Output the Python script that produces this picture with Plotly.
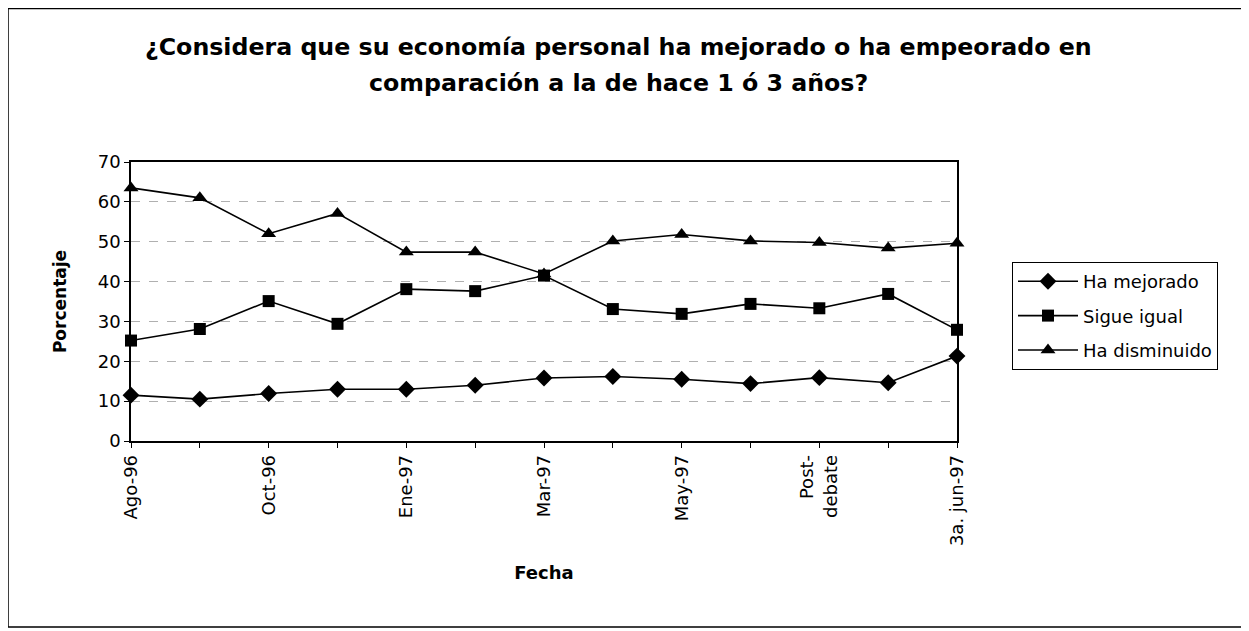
import plotly.graph_objects as go

categories = ["Ago-96", "", "Oct-96", "", "Ene-97", "", "Mar-97", "", "May-97", "", "Post-<br>debate", "", "3a. jun-97"]
ha_mejorado = [11.5, 10.5, 11.9, 13.0, 13.0, 14.0, 15.8, 16.2, 15.5, 14.4, 15.9, 14.6, 21.3]
sigue_igual = [25.2, 28.1, 35.1, 29.4, 38.1, 37.6, 41.5, 33.1, 31.9, 34.4, 33.3, 36.9, 27.9]
ha_disminuido = [63.5, 61.0, 52.0, 57.1, 47.4, 47.4, 41.9, 50.2, 51.8, 50.2, 49.8, 48.4, 49.6]
series_names = ["Ha mejorado", "Sigue igual", "Ha disminuido"]
symbols = ["diamond", "square", "triangle-up"]
y_ticks = [0, 10, 20, 30, 40, 50, 60, 70]
title_lines = ["¿Considera que su economía personal ha mejorado o ha empeorado en",
               "comparación a la de hace 1 ó 3 años?"]

FONT = "DejaVu Sans, Verdana, sans-serif"
idx = list(range(len(categories)))

fig = go.Figure()
for i, (name, vals, sym) in enumerate(zip(series_names, [ha_mejorado, sigue_igual, ha_disminuido], symbols)):
    fig.add_trace(go.Scatter(
        x=idx, y=vals, name=name, mode="lines+markers", legendgroup=f"g{i}",
        line=dict(color="black", width=1.6),
        marker=dict(symbol=sym, size=13 if sym != "square" else 12, color="black"),
        cliponaxis=False,
    ))

# page has an 8px body margin: figure coordinates = reference pixels - 8
OFF = 8
W, H = 1249 - OFF, 631 - OFF
L, R, T, B = 131 - OFF, 957 - OFF, 162 - OFF, 441 - OFF
pw, ph = R - L, B - T

def px(x):
    return (x - OFF - L) / pw

def py(y):
    return (B - (y - OFF)) / ph

fig.update_layout(
    width=W, height=H,
    margin=dict(l=L, r=W - R, t=T, b=H - B, autoexpand=False),
    paper_bgcolor="white", plot_bgcolor="white",
    font=dict(family=FONT, size=18, color="black"),
    xaxis=dict(
        range=[0, 12], tickmode="array", tickvals=idx, ticktext=categories,
        tickangle=-90, ticks="outside", ticklen=5, tickcolor="black",
        showline=True, linecolor="black", linewidth=1.5, mirror=True,
        showgrid=False, zeroline=False,
        tickfont=dict(family=FONT, size=18),
        title=dict(text="<b>Fecha</b>", font=dict(family=FONT, size=18), standoff=21),
    ),
    yaxis=dict(
        range=[0, 70], tickmode="array", tickvals=y_ticks,
        ticks="outside", ticklen=5, tickcolor="black",
        showline=True, linecolor="black", linewidth=1.5, mirror=True,
        showgrid=True, gridcolor="#b0b0b0", griddash="dash", gridwidth=1,
        zeroline=False,
        tickfont=dict(family=FONT, size=18),
        title=dict(text="<b>Porcentaje</b>", font=dict(family=FONT, size=17), standoff=27),
    ),
    legend=dict(
        x=px(1012), y=py(262), xanchor="left", yanchor="top",
        bordercolor="black", borderwidth=1, bgcolor="white",
        font=dict(family=FONT, size=18), tracegroupgap=8, itemwidth=60,
    ),
    showlegend=True,
)

for line, yc in zip(title_lines, [47, 83]):
    fig.add_annotation(text=f"<b>{line}</b>", xref="paper", yref="paper",
                       x=px(618), y=py(yc), xanchor="center", yanchor="middle",
                       showarrow=False, font=dict(family=FONT, size=23.7, color="black"))

fig.add_shape(type="rect", xref="paper", yref="paper",
              x0=px(8), x1=px(1243), y0=py(627), y1=py(8.5),
              line=dict(color="black", width=1.5), fillcolor="rgba(0,0,0,0)", layer="below")

fig.write_html("out.html")
